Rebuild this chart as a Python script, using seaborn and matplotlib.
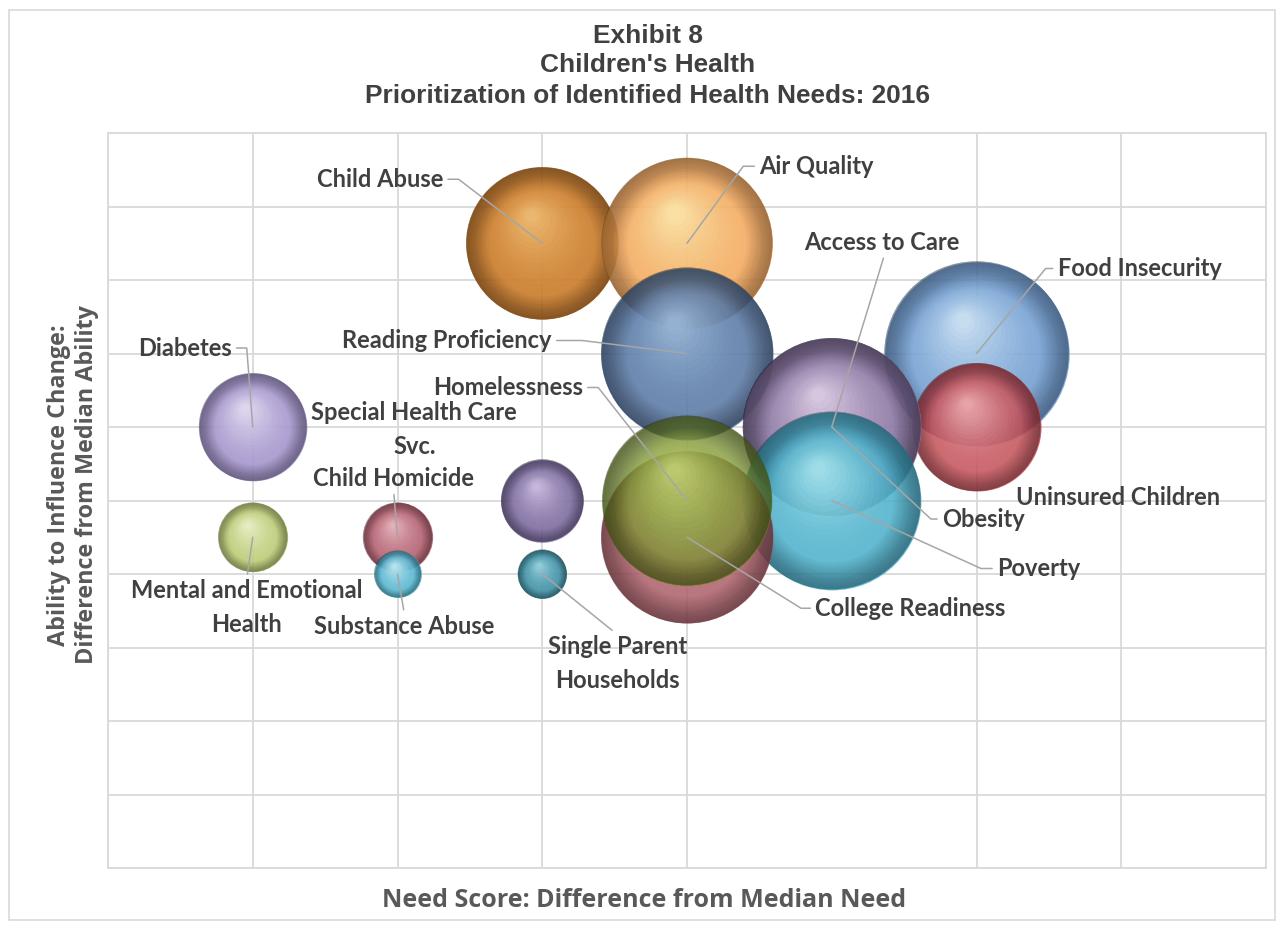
import numpy as np
import pandas as pd
import matplotlib
matplotlib.use("Agg")
import matplotlib.pyplot as plt
import matplotlib.transforms as mtransforms
from matplotlib.colors import to_rgb
import seaborn as sns

# ---- data -------------------------------------------------------------
needs = [
    "Diabetes", "Mental and Emotional\nHealth", "Child Homicide", "Substance Abuse",
    "Special Health Care\nSvc.", "Single Parent\nHouseholds", "Child Abuse", "Air Quality",
    "Reading Proficiency", "Food Insecurity", "Uninsured Children", "Obesity",
    "Access to Care", "Poverty", "College Readiness", "Homelessness",
]
need_score = [-4, -4, -3, -3, -2, -2, -2, -1, -1, 1, 1, 0, 0, 0, -1, -1]
ability_score = [1, -0.5, -0.5, -1, 0, -1, 3.5, 3.5, 2, 2, 1, 1, 1, 0, -0.5, 0]
bubble_size = [29, 12, 12, 5.5, 17, 6, 58, 73, 74, 85, 41, 79, 79, 79, 74, 72]

title_lines = ["Exhibit 8", "Children's Health", "Prioritization of Identified Health Needs: 2016"]
x_title = "Need Score: Difference from Median Need"
y_title = "Ability to Influence Change:\nDifference from Median Ability"

df = pd.DataFrame({"need": needs, "x": need_score, "y": ability_score, "size": bubble_size})

# ---- styling ----------------------------------------------------------
# (main colour, highlight colour, fill opacity)
palette = {
    "Diabetes": ("#a08fc9", "#f6f0ff", 0.85),
    "Mental and Emotional\nHealth": ("#b8c970", "#f8fce0", 0.85),
    "Child Homicide": ("#b0596a", "#f6d0d6", 0.85),
    "Substance Abuse": ("#4fb3cf", "#e0f8fc", 0.85),
    "Special Health Care\nSvc.": ("#76649a", "#e2d6f2", 0.85),
    "Single Parent\nHouseholds": ("#378aa0", "#b4e6f0", 0.85),
    "Child Abuse": ("#c6731f", "#fbcf8a", 0.84),
    "Air Quality": ("#f3a255", "#fff8c2", 0.82),
    "Reading Proficiency": ("#50719e", "#b0cbe8", 0.80),
    "Food Insecurity": ("#6595ce", "#e8f8ff", 0.80),
    "Uninsured Children": ("#c0474f", "#f8c4c8", 0.78),
    "Obesity": ("#86729f", "#f2e4f6", 0.45),
    "Access to Care": ("#86729f", "#f2e4f6", 0.72),
    "Poverty": ("#3faac6", "#c0f2f8", 0.78),
    "College Readiness": ("#a95a64", "#eab4b8", 0.80),
    "Homelessness": ("#728c2a", "#d6e285", 0.62),
}

# label layout: offset of the first line's anchor from the bubble centre
# (pixels), horizontal alignment, leader start on the first line's box,
# leader kind
label_layout = {
    "Child Abuse": (-99, 64, "right", (1, 0.5), ("elbow", -85, 65)),
    "Air Quality": (72, 77, "left", (0, 0.5), ("elbow", 57, 78)),
    "Access to Care": (50, 185, "center", (0.52, 0), ("straight",)),
    "Obesity": (110, -92, "left", (0, 0.5), ("elbow", 97, -90)),
    "Poverty": (165, -68, "left", (0, 0.5), ("elbow", 147, -67)),
    "Uninsured Children": (40, -70, "left", None, None),
    "Food Insecurity": (81, 85, "left", (0, 0.5), ("elbow", 70, 86)),
    "Reading Proficiency": (-135, 13, "right", (1, 0.5), ("elbow", -121, 15)),
    "Homelessness": (-104, 113, "right", (1, 0.5), ("elbow", -88, 112)),
    "Special Health Care\nSvc.": (-128, 88, "center", None, None),
    "Child Homicide": (-4, 59, "center", (0.5, 0), ("straight",)),
    "Mental and Emotional\nHealth": (-6, -53, "center", (0.5, 1), ("straight",)),
    "Substance Abuse": (7, -52, "center", (0.5, 1), ("straight",)),
    "Single Parent\nHouseholds": (75, -72, "center", (0.5, 1), ("straight",)),
    "Diabetes": (-21, 79, "right", (1, 0.5), ("elbow", -6, 79)),
    "College Readiness": (128, -71, "left", (0, 0.5), ("elbow", 114, -71)),
}
LINE_STEP = 34  # pixels between the lines of a two-line label

DPI = 100
SIZE_SCALE = (2 * 0.72) ** 2 * 100  # bubble area in pt^2 per size unit
GRID = "#d9d9d9"
LABEL_COLOR = "#404040"
LEADER_COLOR = "#a6a6a6"

sns.set_theme(style="whitegrid")
plt.rcParams["font.family"] = ["DejaVu Sans"]

fig = plt.figure(figsize=(12.83, 9.30), dpi=DPI)
ax = fig.add_axes([108 / 1283, 62 / 930, 1158 / 1283, 735 / 930])
ax.set_facecolor("white")

ax.set_xlim(-5, 3)
ax.set_ylim(-5, 5)
# the vertical axis crosses at 0 and is drawn without a line
ax.set_xticks([-5, -4, -3, -2, -1, 1, 2, 3])
ax.set_yticks(np.arange(-5, 5.01, 1))
ax.grid(True, color=GRID, linewidth=1.3)
ax.tick_params(length=0, labelbottom=False, labelleft=False)
for sp in ax.spines.values():
    sp.set_color(GRID)
    sp.set_linewidth(1.3)
ax.set_axisbelow(True)
ax.set_xlabel("")
ax.set_ylabel("")


def mix(c1, c2, t):
    a, b = np.array(to_rgb(c1)), np.array(to_rgb(c2))
    return tuple(a * (1 - t) + b * t)


def shifted(dx, dy):
    return mtransforms.offset_copy(ax.transData, fig=fig, x=dx, y=dy, units="points")


def draw_sphere(row, z):
    main, hi, alpha = palette[row.need]
    area = SIZE_SCALE * row.size
    R = np.sqrt(area) / 2.0
    dark = mix(main, "#000000", 0.6)
    # body
    sns.scatterplot(x=[row.x], y=[row.y], s=area, color=main, alpha=alpha,
                    linewidth=0, ax=ax, zorder=z, legend=False)
    # darker rim, built from thin rings so it fades smoothly inwards
    nr = 12
    for k in range(nr):
        w = 0.30 * (1 - k / nr)
        lw = w * R
        ax.scatter([row.x], [row.y], s=(2 * R - lw) ** 2, facecolors="none",
                   edgecolors=[dark], linewidths=lw, alpha=0.06,
                   zorder=z + 0.001 * (k + 1))
    # specular highlight drifting towards the upper left
    hx, hy = -0.15 * R, 0.36 * R
    n = 18
    for i in range(n):
        t = i / (n - 1)
        f = 0.86 - 0.78 * t
        col = mix(main, hi, 0.15 + 0.85 * t ** 0.8)
        ax.scatter([row.x], [row.y], s=(2 * f * R) ** 2, color=[col], linewidths=0,
                   alpha=0.10 + 0.06 * t, transform=shifted(hx * t, hy * t),
                   zorder=z + 0.1 + 0.001 * i)


for i, row in enumerate(df.itertuples()):
    draw_sphere(row, 3 + i)

# ---- data labels ------------------------------------------------------
label_font = dict(fontsize=17, fontweight="bold", family=["Lato", "DejaVu Sans"],
                  color=LABEL_COLOR)
for row in df.itertuples():
    dx, dy, ha, relpos, leader = label_layout[row.need]
    arrow = None
    if leader is not None:
        if leader[0] == "elbow":
            ang = np.degrees(np.arctan2(leader[2], leader[1]))
            conn = f"angle,angleA=0,angleB={ang:.2f},rad=0"
        else:
            conn = "arc3,rad=0"
        arrow = dict(arrowstyle="-", color=LEADER_COLOR, lw=1.1, shrinkA=1, shrinkB=0,
                     relpos=relpos, connectionstyle=conn)
    for j, line in enumerate(row.need.split("\n")):
        ax.annotate(line, xy=(row.x, row.y), xycoords="data",
                    xytext=(dx, dy - j * LINE_STEP), textcoords="offset pixels",
                    ha=ha, va="center", arrowprops=arrow if j == 0 else None,
                    zorder=60, annotation_clip=False, **label_font)

# ---- titles -------------------------------------------------------------
for line, ypix in zip(title_lines, [36, 65, 96]):
    fig.text(648 / 1283, 1 - ypix / 930, line, ha="center", va="center", fontsize=18.9,
             fontweight="bold", family=["Liberation Sans", "DejaVu Sans"], color="#404040")

fig.text(644 / 1283, 1 - 900 / 930, x_title, ha="center", va="center", fontsize=18,
         fontweight="bold", family=["Open Sans", "DejaVu Sans"], color="#595959")
fig.text(73 / 1283, 1 - 485 / 930, y_title, ha="center", va="center", rotation=90,
         fontsize=16.8, fontweight="bold", family=["Open Sans", "DejaVu Sans"],
         color="#595959", linespacing=1.25)

# chart area border
fig.patches.append(plt.Rectangle((9 / 1283, 10 / 930), 1266 / 1283, 910 / 930,
                                 transform=fig.transFigure, fill=False,
                                 edgecolor="#d9d9d9", linewidth=1.2))

fig.savefig("out.png", dpi=DPI, facecolor="white")
